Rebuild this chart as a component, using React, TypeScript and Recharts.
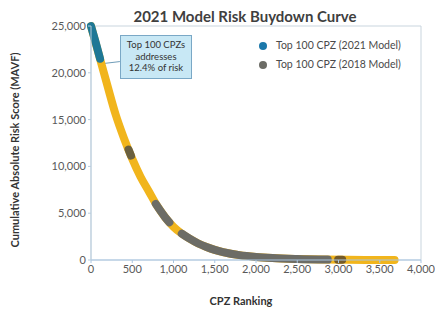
import React from "react";
import { LineChart, Line, XAxis, YAxis, ReferenceArea, ReferenceLine } from "recharts";

const xTicks = [0, 500, 1000, 1500, 2000, 2500, 3000, 3500, 4000];
const yTicks = [0, 5000, 10000, 15000, 20000, 25000];

const allCpz = [
  { x: 0, y: 25000 }, { x: 100, y: 21800 }, { x: 200, y: 18600 }, { x: 300, y: 15500 },
  { x: 400, y: 13000 }, { x: 500, y: 10800 }, { x: 600, y: 8900 }, { x: 700, y: 7350 },
  { x: 800, y: 5800 }, { x: 900, y: 4550 }, { x: 1000, y: 3550 }, { x: 1100, y: 2820 },
  { x: 1200, y: 2250 }, { x: 1300, y: 1760 }, { x: 1400, y: 1390 }, { x: 1500, y: 1080 },
  { x: 1600, y: 850 }, { x: 1800, y: 520 }, { x: 2000, y: 330 }, { x: 2200, y: 210 },
  { x: 2500, y: 110 }, { x: 2800, y: 50 }, { x: 3100, y: 20 }, { x: 3400, y: 8 }, { x: 3680, y: 0 },
];

const top2021 = [{ x: 0, y: 25000 }, { x: 55, y: 23300 }, { x: 110, y: 21500 }];

const gray1 = [{ x: 455, y: 11800 }, { x: 485, y: 11150 }];
const gray2 = [{ x: 785, y: 6000 }, { x: 850, y: 5150 }, { x: 900, y: 4550 }, { x: 950, y: 4030 }];
const gray3 = [
  { x: 1100, y: 2820 }, { x: 1200, y: 2250 }, { x: 1300, y: 1760 }, { x: 1400, y: 1390 },
  { x: 1500, y: 1080 }, { x: 1600, y: 850 }, { x: 1800, y: 520 }, { x: 2000, y: 330 },
  { x: 2200, y: 210 }, { x: 2500, y: 110 }, { x: 2870, y: 45 },
];
const brown1 = [{ x: 2995, y: 30 }, { x: 3045, y: 25 }];

const fmt = (v: number) => v.toLocaleString("en-US");

const FONT = "Lato, 'Open Sans', sans-serif";
const YELLOW = "#f1b51c";
const TEAL = "#1e7896";
const GRAY = "#6c6c66";

export default function App() {
  const lineProps = {
    type: "monotone" as const,
    dataKey: "y",
    dot: false,
    strokeWidth: 8,
    strokeLinecap: "round" as const,
    isAnimationActive: false,
  };
  return (
    <div style={{ position: "absolute", left: 0, top: 0, width: 435, height: 315, background: "#fff", fontFamily: FONT }}>
      <LineChart width={435} height={315} margin={{ top: 26, right: 14, bottom: 25, left: 31 }}>
        <XAxis
          type="number"
          dataKey="x"
          domain={[0, 4000]}
          ticks={xTicks}
          tickFormatter={fmt}
          height={30}
          stroke="#a9c6e2"
          tickSize={3}
          tick={{ fill: "#595959", fontSize: 11, fontFamily: FONT }}
          interval={0}
        />
        <YAxis
          type="number"
          domain={[0, 25000]}
          ticks={yTicks}
          tickFormatter={fmt}
          width={60}
          stroke="#b9cddd"
          tickSize={3}
          tick={{ fill: "#595959", fontSize: 11, fontFamily: FONT }}
          interval={0}
        />
        <ReferenceArea x1={0} x2={4000} y1={0} y2={25000} fill="none" stroke="#c9d5de" strokeWidth={1} />
        <ReferenceLine segment={[{ x: 160, y: 21000 }, { x: 350, y: 21200 }]} stroke="#6f9cb8" strokeWidth={1} />
        <Line {...lineProps} data={allCpz} stroke={YELLOW} />
        <Line {...lineProps} data={gray1} stroke="#6a6040" />
        <Line {...lineProps} data={gray2} stroke={GRAY} />
        <Line {...lineProps} data={gray3} stroke={GRAY} />
        <Line {...lineProps} data={brown1} stroke="#735a2a" />
        <Line {...lineProps} data={top2021} stroke={TEAL} />
      </LineChart>

      <div style={{ position: "absolute", left: 0, width: 490, top: 7, textAlign: "center", fontSize: 15, fontWeight: 700, color: "#3f3f3f" }}>
        2021 Model Risk Buydown Curve
      </div>

      <div style={{ position: "absolute", left: 181, width: 120, top: 294, textAlign: "center", fontSize: 11, fontWeight: 700, color: "#333" }}>
        CPZ Ranking
      </div>

      <div
        style={{
          position: "absolute",
          left: 14,
          top: 150,
          transform: "translate(-50%, -50%) rotate(-90deg)",
          whiteSpace: "nowrap",
          fontSize: 11,
          fontWeight: 700,
          color: "#333",
        }}
      >
        Cumulative Absolute Risk Score (MAVF)
      </div>

      <div
        style={{
          position: "absolute",
          left: 120,
          top: 35,
          width: 72,
          height: 44,
          boxSizing: "border-box",
          background: "#c8e8f5",
          border: "1px solid #7aa8c6",
          textAlign: "center",
          fontSize: 9.5,
          lineHeight: "11.5px",
          color: "#333",
          paddingTop: 3,
        }}
      >
        Top 100 CPZs
        <br />
        addresses
        <br />
        12.4% of risk
      </div>

      <div style={{ position: "absolute", left: 259, top: 36, fontSize: 10.5, color: "#4a4a4a", lineHeight: "19px" }}>
        <div style={{ display: "flex", alignItems: "center" }}>
          <span style={{ width: 8, height: 8, borderRadius: 4, background: "#1b78aa", marginRight: 9, display: "inline-block" }} />
          Top 100 CPZ (2021 Model)
        </div>
        <div style={{ display: "flex", alignItems: "center" }}>
          <span style={{ width: 8, height: 8, borderRadius: 4, background: GRAY, marginRight: 9, display: "inline-block" }} />
          Top 100 CPZ (2018 Model)
        </div>
      </div>
    </div>
  );
}
